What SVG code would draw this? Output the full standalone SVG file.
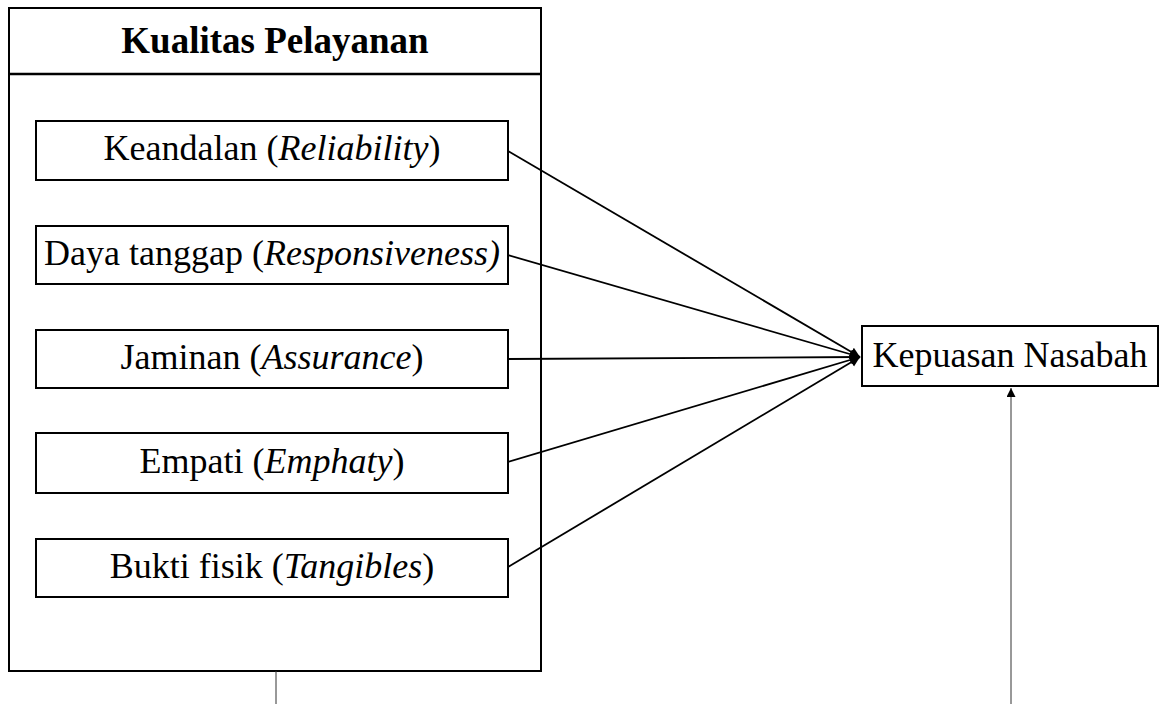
<svg xmlns="http://www.w3.org/2000/svg" width="1161" height="704" viewBox="0 0 1161 704">
<style>
.box{fill:#fff;stroke:#000;stroke-width:2}
.t{font-family:"Liberation Serif","Times New Roman",serif;font-size:36px;fill:#000;text-anchor:middle}
.tb{font-weight:bold;font-size:37px}
.c{stroke:#000;stroke-width:1.8;fill:none}
.thin{stroke:#333;stroke-width:1;fill:none}
</style>
<defs>
<marker id="ah" viewBox="0 0 10 10" refX="10" refY="5" markerWidth="10" markerHeight="11" markerUnits="userSpaceOnUse" orient="auto">
<path d="M0,0 L10,5 L0,10 z" fill="#000"/>
</marker>
<marker id="ah2" viewBox="0 0 10 10" refX="10" refY="5" markerWidth="9" markerHeight="9" markerUnits="userSpaceOnUse" orient="auto">
<path d="M0,0 L10,5 L0,10 z" fill="#000"/>
</marker>
</defs>
<g id="kualitas-pelayanan">
<rect class="box" x="9" y="8" width="532" height="663"/>
<line x1="9" y1="74" x2="541" y2="74" stroke="#000" stroke-width="2.5"/>
<text class="t tb" x="275" y="53">Kualitas Pelayanan</text>
</g>
<g id="keandalan">
<rect class="box" x="36" y="121" width="472" height="59"/>
<text class="t" x="272" y="160">Keandalan (<tspan font-style="italic">Reliability</tspan>)</text>
</g>
<g id="daya-tanggap">
<rect class="box" x="36" y="226" width="472" height="58"/>
<text class="t" x="272" y="265">Daya tanggap (<tspan font-style="italic">Responsiveness)</tspan></text>
</g>
<g id="jaminan">
<rect class="box" x="36" y="330" width="472" height="58"/>
<text class="t" x="272" y="369">Jaminan (<tspan font-style="italic">Assurance</tspan>)</text>
</g>
<g id="empati">
<rect class="box" x="36" y="433" width="472" height="60"/>
<text class="t" x="272" y="473">Empati (<tspan font-style="italic">Emphaty</tspan>)</text>
</g>
<g id="bukti-fisik">
<rect class="box" x="36" y="539" width="472" height="58"/>
<text class="t" x="272" y="578">Bukti fisik (<tspan font-style="italic">Tangibles</tspan>)</text>
</g>
<g id="kepuasan-nasabah">
<rect class="box" x="862" y="326" width="296" height="60"/>
<text class="t" x="1010" y="367">Kepuasan Nasabah</text>
</g>
<g id="connectors">
<line class="c" x1="508" y1="151" x2="860" y2="357" marker-end="url(#ah)"/>
<line class="c" x1="508" y1="255" x2="860" y2="357" marker-end="url(#ah)"/>
<line class="c" x1="508" y1="359" x2="860" y2="357" marker-end="url(#ah)"/>
<line class="c" x1="508" y1="462" x2="860" y2="357" marker-end="url(#ah)"/>
<line class="c" x1="508" y1="567" x2="860" y2="357" marker-end="url(#ah)"/>
<line class="thin" x1="276" y1="671" x2="276" y2="704"/>
<line class="thin" x1="1011" y1="704" x2="1011" y2="388" marker-end="url(#ah2)"/>
</g>
</svg>
